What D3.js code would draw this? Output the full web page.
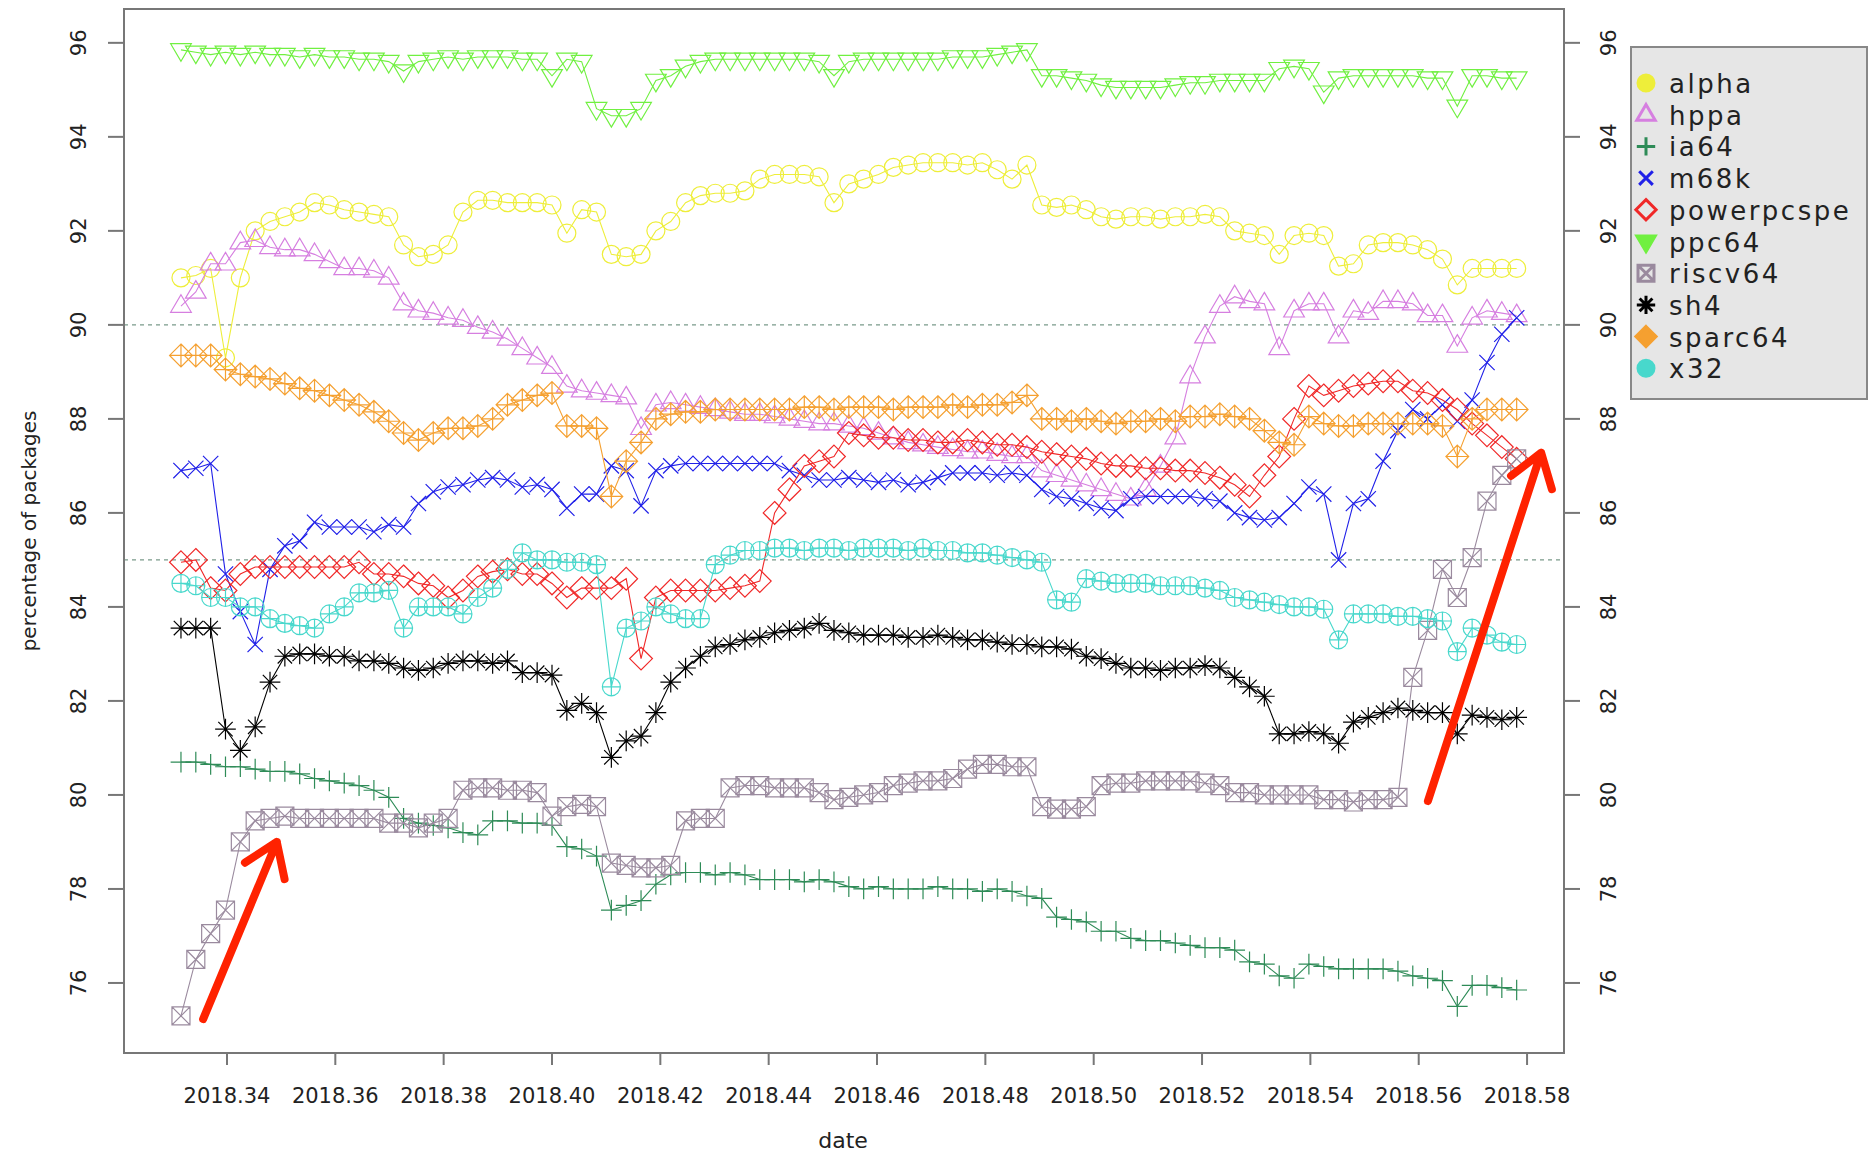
<!DOCTYPE html>
<html>
<head>
<meta charset="utf-8">
<script src="https://cdn.jsdelivr.net/npm/d3@7"></script>
<style>
  body { margin: 0; background: #fff; }
  text { font-family: "DejaVu Sans", sans-serif; fill: #222; }
</style>
</head>
<body>
<svg id="chart" width="1869" height="1157"></svg>
<script>
// one point per day, 1 May to 30 July 2018, plotted as decimal year
const dates = d3.utcDay.range(Date.UTC(2018, 4, 1, 12), Date.UTC(2018, 6, 31, 12))
    .map(d => 2018 + (d - Date.UTC(2018, 0, 1)) / (365 * 864e5));

const alpha = [91.0,91.05,91.2,89.3,91.0,92.0,92.2,92.3,92.4,92.6,92.55,92.45,92.4,92.35,92.3,91.7,91.45,91.5,91.7,92.4,
  92.65,92.65,92.6,92.6,92.6,92.55,91.95,92.45,92.4,91.5,91.45,91.5,92.0,92.2,92.6,92.75,92.8,92.8,92.85,93.1,
  93.2,93.2,93.2,93.15,92.6,93.0,93.1,93.2,93.35,93.4,93.45,93.45,93.45,93.4,93.45,93.3,93.1,93.4,92.55,92.5,
  92.55,92.45,92.3,92.25,92.3,92.3,92.25,92.3,92.3,92.35,92.3,92.0,91.95,91.9,91.5,91.9,91.95,91.9,91.25,91.3,
  91.7,91.75,91.75,91.7,91.6,91.4,90.85,91.2,91.2,91.2,91.2];
const hppa = [90.4,90.7,91.3,91.3,91.75,91.8,91.65,91.6,91.6,91.5,91.35,91.2,91.2,91.15,91.0,90.45,90.3,90.25,90.15,90.1,
  89.95,89.85,89.7,89.5,89.3,89.1,88.7,88.6,88.55,88.5,88.45,87.8,88.3,88.35,88.3,88.25,88.2,88.15,88.1,88.1,
  88.05,88.0,87.95,87.9,87.9,87.85,87.8,87.7,87.6,87.5,87.45,87.4,87.35,87.3,87.3,87.25,87.2,87.2,86.9,86.8,
  86.7,86.6,86.5,86.4,86.3,86.5,87.0,87.6,88.9,89.75,90.4,90.6,90.5,90.45,89.5,90.3,90.45,90.45,89.75,90.3,
  90.25,90.5,90.5,90.45,90.2,90.2,89.55,90.15,90.3,90.25,90.2];
const ia64 = [80.7,80.7,80.65,80.6,80.6,80.55,80.5,80.5,80.45,80.35,80.3,80.25,80.2,80.1,79.95,79.5,79.4,79.35,79.3,79.2,
  79.15,79.45,79.45,79.4,79.4,79.35,78.9,78.85,78.7,77.55,77.65,77.75,78.1,78.3,78.35,78.35,78.3,78.35,78.3,78.2,
  78.2,78.2,78.15,78.2,78.15,78.05,78.0,78.05,78.0,78.0,78.0,78.05,78.0,78.0,77.95,78.0,77.95,77.85,77.8,77.4,
  77.35,77.3,77.1,77.1,76.95,76.9,76.9,76.85,76.8,76.75,76.75,76.7,76.45,76.4,76.15,76.1,76.4,76.35,76.3,76.3,
  76.3,76.3,76.25,76.15,76.1,76.05,75.5,75.95,75.95,75.9,75.85];
const m68k = [86.9,86.95,87.05,84.7,83.9,83.2,84.8,85.3,85.4,85.8,85.7,85.7,85.7,85.6,85.75,85.7,86.2,86.45,86.55,86.6,
  86.7,86.75,86.7,86.55,86.6,86.5,86.1,86.4,86.4,87.0,86.9,86.15,86.9,87.0,87.05,87.05,87.05,87.05,87.05,87.05,
  87.05,86.9,86.8,86.7,86.7,86.75,86.7,86.65,86.7,86.6,86.65,86.75,86.85,86.85,86.85,86.8,86.85,86.8,86.5,86.35,
  86.3,86.2,86.1,86.05,86.3,86.35,86.35,86.35,86.35,86.3,86.25,86.0,85.9,85.85,85.9,86.2,86.55,86.4,85.0,86.2,
  86.3,87.1,87.75,88.2,88.0,88.3,87.95,88.4,89.2,89.8,90.15];
const powerpcspe = [84.95,85.0,84.4,84.35,84.7,84.85,84.85,84.85,84.85,84.85,84.85,84.85,84.95,84.7,84.7,84.65,84.5,84.45,84.2,84.35,
  84.65,84.75,84.8,84.7,84.7,84.5,84.2,84.4,84.4,84.4,84.6,82.9,84.2,84.35,84.35,84.35,84.35,84.4,84.45,84.55,
  86.0,86.5,87.0,87.1,87.2,87.7,87.65,87.6,87.6,87.55,87.55,87.5,87.5,87.55,87.5,87.45,87.45,87.4,87.3,87.25,
  87.2,87.15,87.05,87.0,87.0,86.95,86.95,86.9,86.9,86.85,86.75,86.6,86.35,86.8,87.2,88.0,88.7,88.5,88.6,88.7,
  88.75,88.8,88.8,88.6,88.55,88.4,88.2,87.9,87.65,87.4,87.15];
const ppc64 = [95.85,95.8,95.75,95.8,95.75,95.8,95.75,95.75,95.7,95.75,95.7,95.7,95.65,95.65,95.6,95.4,95.6,95.65,95.7,95.65,
  95.7,95.7,95.7,95.65,95.65,95.3,95.65,95.6,94.6,94.45,94.45,94.6,95.2,95.3,95.5,95.6,95.65,95.65,95.65,95.65,
  95.65,95.65,95.65,95.6,95.3,95.6,95.65,95.65,95.65,95.65,95.65,95.65,95.7,95.7,95.7,95.75,95.8,95.85,95.3,95.3,
  95.25,95.2,95.1,95.05,95.05,95.05,95.05,95.1,95.15,95.15,95.2,95.2,95.2,95.2,95.45,95.5,95.45,94.95,95.25,95.3,
  95.3,95.3,95.3,95.3,95.25,95.25,94.65,95.3,95.3,95.25,95.25];
const riscv64 = [75.3,76.5,77.05,77.55,79.0,79.45,79.5,79.55,79.5,79.5,79.5,79.5,79.5,79.5,79.4,79.4,79.3,79.4,79.5,80.1,
  80.15,80.15,80.1,80.1,80.05,79.55,79.75,79.8,79.75,78.55,78.5,78.45,78.45,78.5,79.45,79.5,79.5,80.15,80.2,80.2,
  80.15,80.15,80.15,80.05,79.9,79.95,80.0,80.05,80.2,80.25,80.3,80.3,80.35,80.55,80.65,80.65,80.6,80.6,79.75,79.7,
  79.7,79.75,80.2,80.25,80.25,80.3,80.3,80.3,80.3,80.25,80.2,80.05,80.05,80.0,80.0,80.0,80.0,79.9,79.9,79.85,
  79.9,79.9,79.95,82.5,83.5,84.8,84.2,85.05,86.25,86.8,87.15];
const sh4 = [83.55,83.55,83.55,81.4,80.95,81.45,82.4,82.95,83.0,83.0,82.95,82.95,82.85,82.85,82.8,82.7,82.65,82.7,82.8,82.85,
  82.85,82.8,82.85,82.6,82.6,82.55,81.8,81.95,81.75,80.8,81.15,81.25,81.75,82.4,82.7,82.95,83.15,83.2,83.3,83.35,
  83.45,83.5,83.55,83.65,83.5,83.45,83.4,83.4,83.4,83.35,83.35,83.4,83.35,83.3,83.3,83.25,83.2,83.2,83.15,83.15,
  83.1,82.95,82.9,82.8,82.7,82.7,82.65,82.7,82.7,82.75,82.7,82.5,82.3,82.1,81.3,81.3,81.35,81.3,81.1,81.55,
  81.65,81.75,81.85,81.8,81.75,81.75,81.3,81.7,81.65,81.6,81.65];
const sparc64 = [89.35,89.35,89.35,89.05,88.95,88.9,88.85,88.75,88.65,88.6,88.5,88.4,88.3,88.15,87.95,87.7,87.55,87.7,87.8,87.8,
  87.85,88.0,88.3,88.4,88.5,88.55,87.85,87.85,87.8,86.35,87.1,87.5,88.0,88.1,88.15,88.15,88.2,88.2,88.2,88.2,
  88.2,88.2,88.25,88.25,88.2,88.25,88.25,88.25,88.2,88.25,88.25,88.25,88.3,88.25,88.3,88.3,88.35,88.5,88.0,88.0,
  87.95,88.0,87.95,87.9,87.95,87.95,88.0,87.95,88.05,88.05,88.1,88.05,88.0,87.75,87.5,87.45,88.05,87.9,87.85,87.85,
  87.9,87.9,87.9,87.9,87.9,87.85,87.2,88.0,88.2,88.2,88.2];
const x32 = [84.5,84.45,84.2,84.2,84.0,84.0,83.75,83.65,83.6,83.55,83.85,84.0,84.3,84.3,84.35,83.55,84.0,84.0,84.0,83.85,
  84.2,84.4,84.8,85.15,85.0,85.0,84.95,84.95,84.9,82.3,83.55,83.7,84.0,83.85,83.75,83.75,84.9,85.1,85.2,85.2,
  85.25,85.25,85.2,85.25,85.25,85.2,85.25,85.25,85.25,85.2,85.25,85.2,85.2,85.15,85.15,85.1,85.05,85.0,84.95,84.15,
  84.1,84.6,84.55,84.5,84.5,84.5,84.45,84.45,84.45,84.4,84.35,84.2,84.15,84.1,84.05,84.0,84.0,83.95,83.3,83.85,
  83.85,83.85,83.8,83.8,83.75,83.7,83.05,83.55,83.4,83.25,83.2];

const archNames = ["alpha", "hppa", "ia64", "m68k", "powerpcspe", "ppc64", "riscv64", "sh4", "sparc64", "x32"];
const archValues = [alpha, hppa, ia64, m68k, powerpcspe, ppc64, riscv64, sh4, sparc64, x32];
const archColors = ["#EEEE3A", "#D67FE0", "#2E8B57", "#2020E8", "#F02828", "#70F040", "#9A8A9E", "#000000", "#F5A030", "#48D8CC"];

const xTicks = [2018.34, 2018.36, 2018.38, 2018.40, 2018.42, 2018.44, 2018.46, 2018.48, 2018.50, 2018.52, 2018.54, 2018.56, 2018.58];
const yTicks = [76, 78, 80, 82, 84, 86, 88, 90, 92, 94, 96];
const refLines = [90, 85];

// hand-drawn annotation arrows, given in data units
const arrows = [
    { from: [2018.3356, 75.23], to: [2018.3492, 79.0] },
    { from: [2018.5617, 79.87], to: [2018.5826, 87.28] }
];

const plot = { left: 124, right: 1564, top: 9, bottom: 1053 };

const svg = d3.select("#chart");

const x = d3.scaleLinear()
    .domain([2018.32099, 2018.58682])
    .range([plot.left, plot.right]);
const y = d3.scaleLinear()
    .domain([74.51, 96.72])
    .range([plot.bottom, plot.top]);

// R pch 1..10 shapes
function shape(pch, r) {
    const p = d3.path();
    const h = r * 1.15;
    switch (pch) {
        case 1:
            p.moveTo(r, 0); p.arc(0, 0, r, 0, 2 * Math.PI); break;
        case 2:
            p.moveTo(0, -h * 1.1); p.lineTo(h, h * 0.6); p.lineTo(-h, h * 0.6); p.closePath(); break;
        case 3:
            p.moveTo(-h, 0); p.lineTo(h, 0); p.moveTo(0, -h); p.lineTo(0, h); break;
        case 4:
            p.moveTo(-r * 0.85, -r * 0.85); p.lineTo(r * 0.85, r * 0.85);
            p.moveTo(-r * 0.85, r * 0.85); p.lineTo(r * 0.85, -r * 0.85); break;
        case 5:
            p.moveTo(0, -h * 1.1); p.lineTo(h * 1.1, 0); p.lineTo(0, h * 1.1); p.lineTo(-h * 1.1, 0); p.closePath(); break;
        case 6:
            p.moveTo(0, h * 1.1); p.lineTo(h, -h * 0.6); p.lineTo(-h, -h * 0.6); p.closePath(); break;
        case 7:
            p.rect(-r, -r, 2 * r, 2 * r);
            p.moveTo(-r, -r); p.lineTo(r, r); p.moveTo(-r, r); p.lineTo(r, -r); break;
        case 8:
            p.moveTo(-h, 0); p.lineTo(h, 0); p.moveTo(0, -h); p.lineTo(0, h);
            p.moveTo(-r * 0.8, -r * 0.8); p.lineTo(r * 0.8, r * 0.8);
            p.moveTo(-r * 0.8, r * 0.8); p.lineTo(r * 0.8, -r * 0.8); break;
        case 9:
            p.moveTo(0, -h * 1.1); p.lineTo(h * 1.1, 0); p.lineTo(0, h * 1.1); p.lineTo(-h * 1.1, 0); p.closePath();
            p.moveTo(-h * 1.1, 0); p.lineTo(h * 1.1, 0); p.moveTo(0, -h * 1.1); p.lineTo(0, h * 1.1); break;
        case 10:
            p.moveTo(r, 0); p.arc(0, 0, r, 0, 2 * Math.PI);
            p.moveTo(-r, 0); p.lineTo(r, 0); p.moveTo(0, -r); p.lineTo(0, r); break;
    }
    return p.toString();
}

// reference lines
svg.selectAll(".ref")
    .data(refLines)
    .enter().append("line")
    .attr("x1", plot.left).attr("x2", plot.right)
    .attr("y1", d => y(d)).attr("y2", d => y(d))
    .style("stroke", "#7a9a8a")
    .style("stroke-width", 1.3)
    .style("stroke-dasharray", "4,4");

// series
const series = archNames.map((name, k) => ({
    name: name,
    pch: k + 1,
    color: archColors[k],
    points: archValues[k].map((v, i) => [dates[i], v])
}));

const line = d3.line().x(d => x(d[0])).y(d => y(d[1]));

const g = svg.selectAll(".series")
    .data(series)
    .enter().append("g")
    .attr("class", "series");

g.append("path")
    .attr("d", d => line(d.points))
    .style("fill", "none")
    .style("stroke", d => d.color)
    .style("stroke-width", 1.1);

g.each(function(s) {
    d3.select(this).selectAll(".pt")
        .data(s.points)
        .enter().append("path")
        .attr("class", "pt")
        .attr("transform", d => `translate(${x(d[0])},${y(d[1])})`)
        .attr("d", shape(s.pch, 9))
        .style("fill", "none")
        .style("stroke", s.color)
        .style("stroke-width", 1.2);
});

// frame
svg.append("rect")
    .attr("x", plot.left).attr("y", plot.top)
    .attr("width", plot.right - plot.left).attr("height", plot.bottom - plot.top)
    .style("fill", "none").style("stroke", "#777").style("stroke-width", 2);

// bottom axis
const xAxis = svg.append("g");
xAxis.selectAll("line")
    .data(xTicks)
    .enter().append("line")
    .attr("x1", d => x(d)).attr("x2", d => x(d))
    .attr("y1", plot.bottom).attr("y2", plot.bottom + 12)
    .style("stroke", "#777").style("stroke-width", 2);
xAxis.selectAll("text")
    .data(xTicks)
    .enter().append("text")
    .attr("x", d => x(d))
    .attr("y", plot.bottom + 50)
    .attr("text-anchor", "middle")
    .style("font-size", "21px")
    .text(d => d3.format(".2f")(d));

// left and right axes, labels parallel to the axis as in base R
[{ x0: plot.left, dir: -1, lx: 86 }, { x0: plot.right, dir: 1, lx: 1616 }].forEach(side => {
    const ax = svg.append("g");
    ax.selectAll("line")
        .data(yTicks)
        .enter().append("line")
        .attr("x1", side.x0).attr("x2", side.x0 + side.dir * 16)
        .attr("y1", d => y(d)).attr("y2", d => y(d))
        .style("stroke", "#777").style("stroke-width", 2);
    ax.selectAll("text")
        .data(yTicks)
        .enter().append("text")
        .attr("transform", d => `translate(${side.lx},${y(d)}) rotate(-90)`)
        .attr("text-anchor", "middle")
        .style("font-size", "21px")
        .text(d => d);
});

// axis titles
svg.append("text")
    .attr("x", x(2018.46) - 34).attr("y", 1148)
    .attr("text-anchor", "middle")
    .style("font-size", "22px")
    .text("date");
svg.append("text")
    .attr("transform", `translate(36,${(plot.top + plot.bottom) / 2}) rotate(-90)`)
    .attr("text-anchor", "middle")
    .style("font-size", "20px")
    .text("percentage of packages");

// legend
const legend = svg.append("g").attr("transform", "translate(1631,47)");
legend.append("rect")
    .attr("width", 236).attr("height", 352)
    .style("fill", "#e6e6e6").style("stroke", "#888").style("stroke-width", 2);
const item = legend.selectAll(".legend")
    .data(series)
    .enter().append("g")
    .attr("class", "legend")
    .attr("transform", (d, i) => `translate(0,${36 + i * 31.7})`);
item.append("path")
    .attr("transform", "translate(15,0)")
    .attr("d", d => shape(d.pch, 8))
    .style("fill", d => [1, 6, 9, 10].includes(d.pch) ? d.color : "none")
    .style("stroke", d => d.color)
    .style("stroke-width", 3);
item.append("text")
    .attr("x", 38).attr("y", 10)
    .style("font-size", "26px")
    .style("letter-spacing", "2.5px")
    .text(d => d.name);

// red arrows
arrows.forEach(a => {
    const x0 = x(a.from[0]), y0 = y(a.from[1]);
    const x1 = x(a.to[0]), y1 = y(a.to[1]);
    const ang = Math.atan2(y1 - y0, x1 - x0);
    const len = 38, spread = 0.6;
    const p = d3.path();
    p.moveTo(x0, y0); p.lineTo(x1, y1);
    p.moveTo(x1 - len * Math.cos(ang - spread), y1 - len * Math.sin(ang - spread));
    p.lineTo(x1, y1);
    p.lineTo(x1 - len * Math.cos(ang + spread), y1 - len * Math.sin(ang + spread));
    svg.append("path")
        .attr("d", p.toString())
        .style("fill", "none")
        .style("stroke", "#FF2200")
        .style("stroke-width", 8)
        .style("stroke-linecap", "round")
        .style("stroke-linejoin", "round");
});
</script>
</body>
</html>
